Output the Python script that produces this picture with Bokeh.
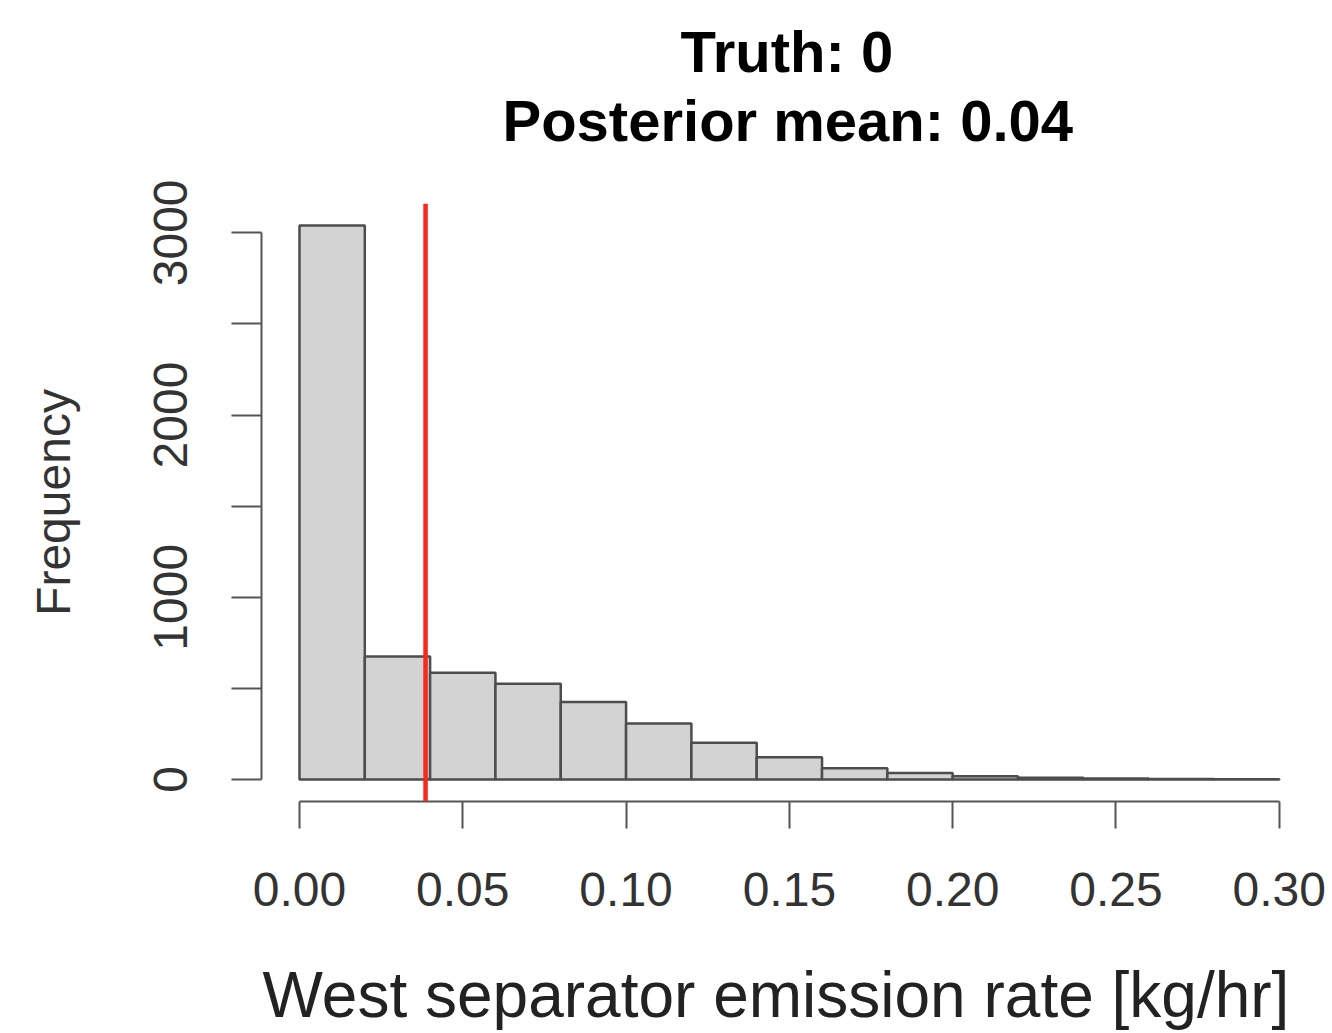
from bokeh.plotting import figure
from bokeh.models import Range1d, FixedTicker, PrintfTickFormatter, Span, Title
from bokeh.embed import file_html
from bokeh.resources import INLINE

# ---- data ----
bin_edges = [0.00, 0.02, 0.04, 0.06, 0.08, 0.10, 0.12, 0.14, 0.16, 0.18, 0.20, 0.22, 0.24, 0.26, 0.28, 0.30]
counts = [3040, 675, 586, 525, 425, 307, 202, 122, 62, 36, 18, 10, 5, 3, 2]
posterior_mean = 0.0386
x_ticks = [0.00, 0.05, 0.10, 0.15, 0.20, 0.25, 0.30]
y_ticks = [0, 1000, 2000, 3000]
y_minor_ticks = [500, 1500, 2500]
title_line1 = "Truth: 0"
title_line2 = "Posterior mean: 0.04"
x_label = "West separator emission rate [kg/hr]"
y_label = "Frequency"

FONT = "Liberation Sans"
AXIS_COLOR = "#555555"

p = figure(width=1332, height=1033, output_backend="svg", toolbar_location=None,
           x_range=Range1d(-0.01163, 0.30344), y_range=Range1d(-120.7, 3161),
           min_border_left=261, min_border_right=42, min_border_top=203, min_border_bottom=232)
p.outline_line_color = None
p.xgrid.visible = False
p.ygrid.visible = False
p.background_fill_color = "white"
p.border_fill_color = "white"

p.quad(left=bin_edges[:-1], right=bin_edges[1:], bottom=0, top=counts,
       fill_color="#d3d3d3", line_color="#4d4d4d", line_width=2.5)

p.add_layout(Span(location=posterior_mean, dimension="height",
                  line_color="#f42a1c", line_width=4.5))

# x axis
xa = p.xaxis[0]
xa.bounds = (x_ticks[0], x_ticks[-1])
xa.ticker = FixedTicker(ticks=x_ticks)
xa.formatter = PrintfTickFormatter(format="%.2f")
xa.axis_line_color = AXIS_COLOR
xa.axis_line_width = 2
xa.major_tick_line_color = AXIS_COLOR
xa.major_tick_line_width = 2
xa.major_tick_out = 27
xa.major_tick_in = 0
xa.minor_tick_line_color = None
xa.major_label_text_font = FONT
xa.major_label_text_font_size = "48px"
xa.major_label_text_color = "#333333"
xa.major_label_standoff = 44
xa.axis_label = x_label
xa.axis_label_text_font = FONT
xa.axis_label_text_font_size = "64px"
xa.axis_label_text_font_style = "normal"
xa.axis_label_text_color = "#222222"
xa.axis_label_standoff = 50

# y axis
ya = p.yaxis[0]
ya.bounds = (y_ticks[0], y_ticks[-1])
ya.ticker = FixedTicker(ticks=y_ticks, minor_ticks=y_minor_ticks)
ya.axis_line_color = AXIS_COLOR
ya.axis_line_width = 2
ya.major_tick_line_color = AXIS_COLOR
ya.major_tick_line_width = 2
ya.major_tick_out = 30
ya.major_tick_in = 0
ya.minor_tick_line_color = AXIS_COLOR
ya.minor_tick_line_width = 2
ya.minor_tick_out = 30
ya.minor_tick_in = 0
ya.major_label_orientation = "vertical"
ya.major_label_text_font = FONT
ya.major_label_text_font_size = "48px"
ya.major_label_text_color = "#333333"
ya.major_label_standoff = 44
ya.axis_label = y_label
ya.axis_label_text_font = FONT
ya.axis_label_text_font_size = "48px"
ya.axis_label_text_font_style = "normal"
ya.axis_label_text_color = "#333333"
ya.axis_label_standoff = 72

# titles (first added sits closest to the plot)
p.add_layout(Title(text=title_line2, align="left", offset=241, standoff=101,
                   text_font=FONT, text_font_size="58px", text_font_style="bold",
                   text_color="black"), "above")
p.add_layout(Title(text=title_line1, align="left", offset=419, standoff=-96,
                   text_font=FONT, text_font_size="58px", text_font_style="bold",
                   text_color="black"), "above")

open("out.html", "w").write(file_html(p, INLINE))
